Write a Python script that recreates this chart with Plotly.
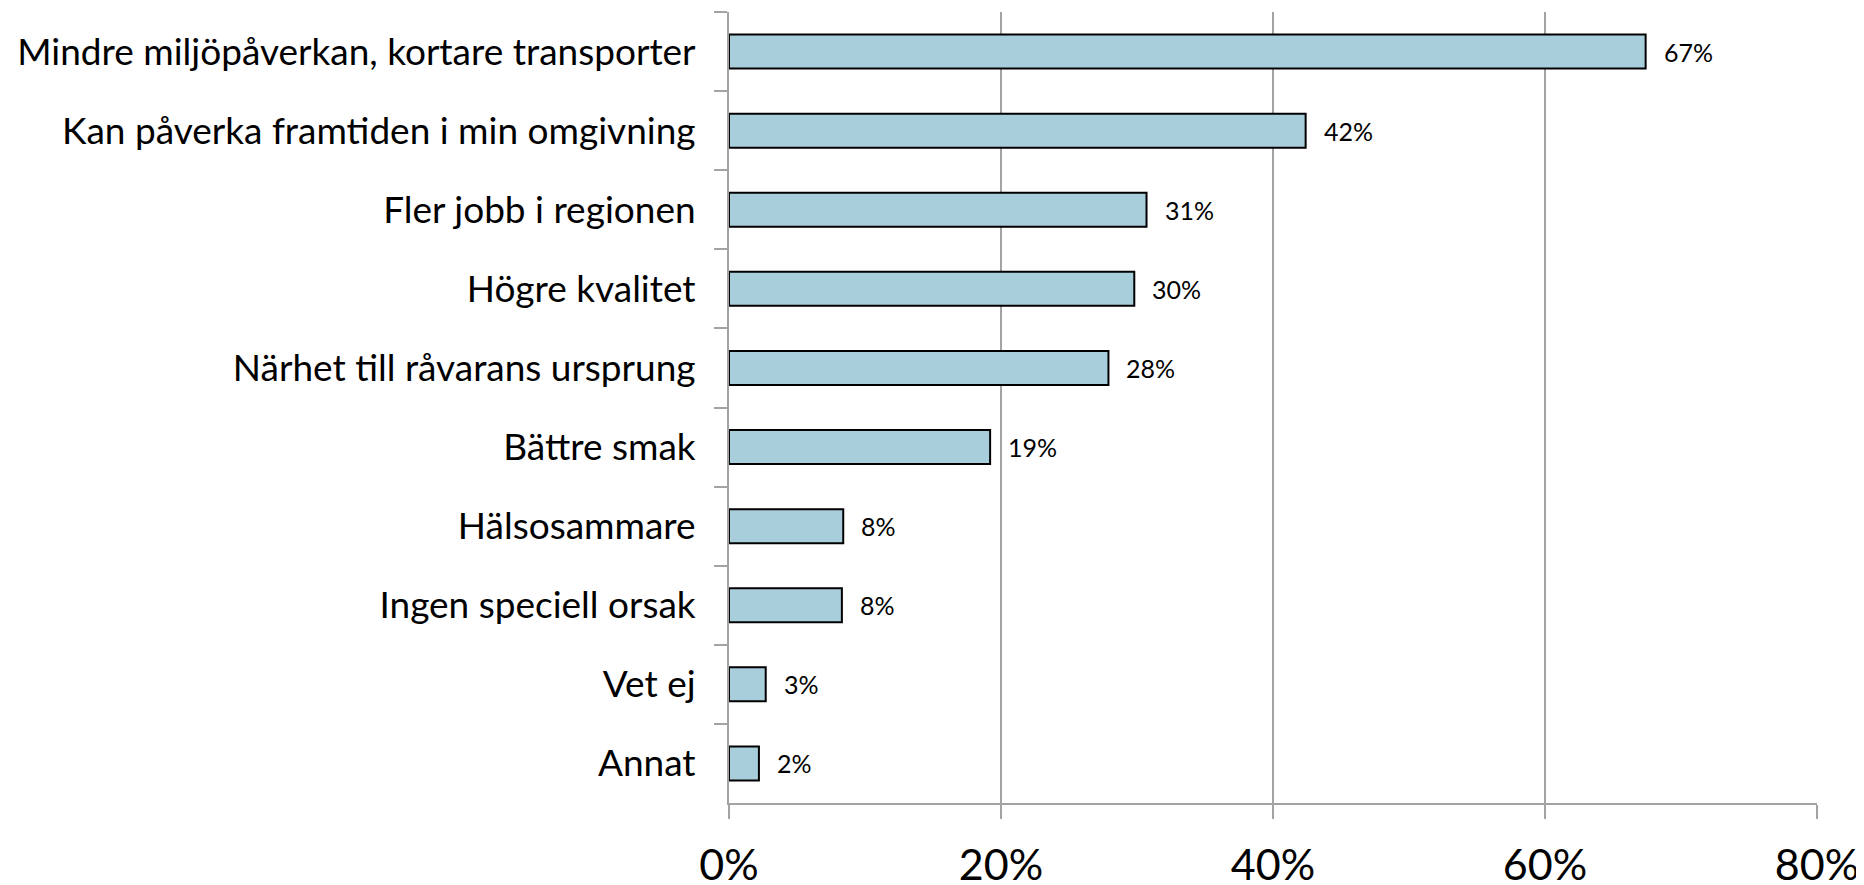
import plotly.graph_objects as go

# Survey reasons, top to bottom as in the chart
categories = [
    "Mindre miljöpåverkan, kortare transporter",
    "Kan påverka framtiden i min omgivning",
    "Fler jobb i regionen",
    "Högre kvalitet",
    "Närhet till råvarans ursprung",
    "Bättre smak",
    "Hälsosammare",
    "Ingen speciell orsak",
    "Vet ej",
    "Annat",
]
values = [67.4, 42.4, 30.7, 29.8, 27.9, 19.2, 8.4, 8.3, 2.7, 2.2]
value_labels = ["67%", "42%", "31%", "30%", "28%", "19%", "8%", "8%", "3%", "2%"]
x_ticks = [0, 20, 40, 60, 80]
x_tick_labels = ["0%", "20%", "40%", "60%", "80%"]

FONT = "Lato"
GRID = "#a3a3a3"

fig = go.Figure()

fig.add_trace(go.Bar(
    x=values,
    y=categories,
    orientation="h",
    marker=dict(color="#a8cddb", line=dict(color="black", width=2)),
    width=0.43,
    hoverinfo="skip",
))

# value labels to the right of each bar
for cat, val, lab in zip(categories, values, value_labels):
    fig.add_annotation(
        x=val, y=cat, xref="x", yref="y",
        text=lab, showarrow=False,
        xanchor="left", xshift=16,
        font=dict(family=FONT, size=25, color="black"),
    )

# page body keeps its default 8px margin, so the figure is 8px smaller
fig.update_layout(
    width=1856, height=877,
    margin=dict(l=721, r=47, t=4, b=82),
    plot_bgcolor="white",
    paper_bgcolor="white",
    showlegend=False,
    font=dict(family=FONT, color="black"),
)

fig.update_xaxes(
    range=[0, 80],
    tickvals=x_ticks,
    ticktext=x_tick_labels,
    showgrid=True, gridcolor=GRID, gridwidth=2,
    showline=True, linecolor=GRID, linewidth=2,
    ticks="outside", ticklen=14, tickwidth=2, tickcolor=GRID,
    tickfont=dict(family=FONT, size=43, color="black"),
    ticklabelstandoff=9,
    zeroline=False,
    automargin=False,
    fixedrange=True,
)

fig.update_yaxes(
    type="category",
    autorange="reversed",
    tickson="boundaries",
    showgrid=False,
    showline=True, linecolor=GRID, linewidth=2,
    ticks="outside", ticklen=13, tickwidth=2, tickcolor=GRID,
    tickfont=dict(family=FONT, size=37, color="black"),
    ticklabelstandoff=24,
    automargin=False,
    fixedrange=True,
)

fig.write_html("out.html")
